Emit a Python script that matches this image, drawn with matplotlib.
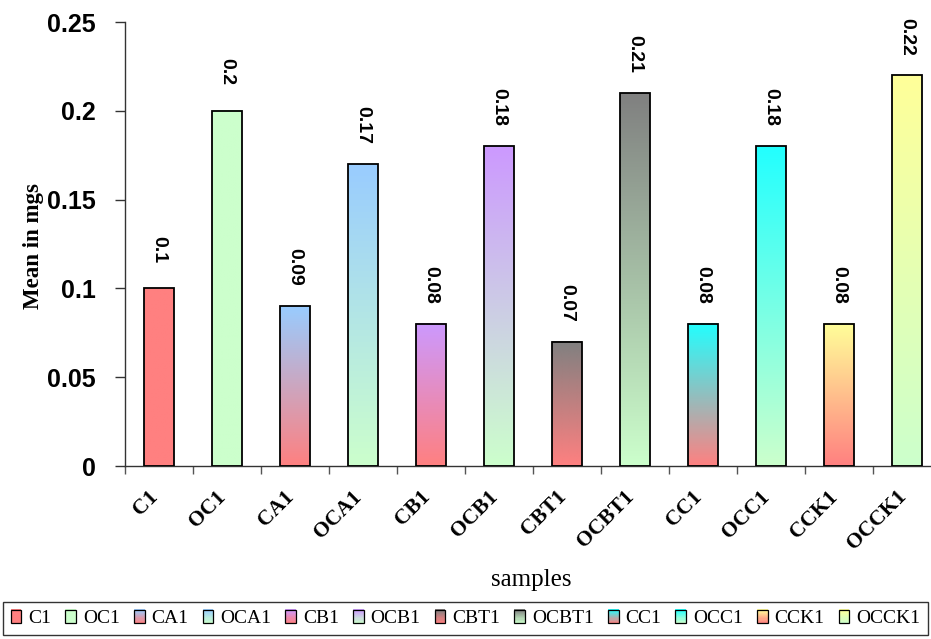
import numpy as np
import matplotlib
matplotlib.use("Agg")
import matplotlib.pyplot as plt
from matplotlib.patches import Rectangle
from matplotlib.colors import to_rgb
from matplotlib.legend_handler import HandlerBase
from matplotlib.ticker import FixedLocator
from matplotlib.transforms import ScaledTranslation

categories = ["C1", "OC1", "CA1", "OCA1", "CB1", "OCB1", "CBT1", "OCBT1",
              "CC1", "OCC1", "CCK1", "OCCK1"]
values = [0.1, 0.2, 0.09, 0.17, 0.08, 0.18, 0.07, 0.21, 0.08, 0.18, 0.08, 0.22]
top_colors = ["#FF8080", "#CCFFCC", "#99CCFF", "#99CCFF", "#CC99FF", "#CC99FF",
              "#808080", "#808080", "#22FFFF", "#22FFFF", "#FFFF99", "#FFFF99"]
bottom_colors = ["#FF8080", "#CCFFCC", "#FF8080", "#CCFFCC", "#FF8080", "#CCFFCC",
                 "#FF8080", "#CCFFCC", "#FF8080", "#CCFFCC", "#FF8080", "#CCFFCC"]
yticks = [0, 0.05, 0.1, 0.15, 0.2, 0.25]
ytick_labels = ["0", "0.05", "0.1", "0.15", "0.2", "0.25"]

W, H = 931, 639
fig = plt.figure(figsize=(W / 100, H / 100), dpi=100)
ax = fig.add_axes([125 / W, (H - 466) / H, 806 / W, 444 / H])

bw = 0.43
for i, (v, tc, bc) in enumerate(zip(values, top_colors, bottom_colors)):
    t = np.linspace(0, 1, 256)[:, None]
    top = np.array(to_rgb(tc))
    bot = np.array(to_rgb(bc))
    grad = (bot[None, :] * (1 - t) + top[None, :] * t)[:, None, :]
    ax.imshow(grad, extent=[i - bw / 2, i + bw / 2, 0, v], origin="lower",
              aspect="auto", interpolation="bilinear", zorder=2)
    ax.add_patch(Rectangle((i - bw / 2, 0), bw, v, fill=False,
                           edgecolor="black", linewidth=1.3, zorder=3))
    ax.annotate(f"{v:g}", xy=(i, v), xytext=(0, 28), textcoords="offset points",
                rotation=270, ha="center", va="center", fontsize=14,
                fontweight="bold", family="Liberation Sans", zorder=4)

ax.set_xlim(-0.5, -0.5 + 806 / 68)
ax.set_ylim(0, 0.25)
for s in ["top", "right"]:
    ax.spines[s].set_visible(False)
for s in ["left", "bottom"]:
    ax.spines[s].set_color("#333333")
    ax.spines[s].set_linewidth(1.0)

ax.set_yticks(yticks)
ax.set_yticklabels(ytick_labels, fontsize=18, fontweight="bold",
                   family="Liberation Sans")
ax.tick_params(axis="y", length=7, width=1, pad=14, color="#333333")

ax.set_xticks(range(len(categories)))
ax.set_xticklabels(categories, rotation=45, ha="right", va="top",
                   rotation_mode="anchor", fontsize=15.5, fontweight="bold",
                   family="Liberation Serif")
ax.tick_params(axis="x", which="major", length=0, pad=15)
shift = ScaledTranslation(-0.11, 0, fig.dpi_scale_trans)
for lbl in ax.get_xticklabels():
    lbl.set_transform(lbl.get_transform() + shift)
ax.xaxis.set_minor_locator(FixedLocator(np.arange(-0.5, len(categories) + 0.5, 1)))
ax.tick_params(axis="x", which="minor", length=6, width=1, color="#555555")

fig.text(33 / W, 1 - 246 / H, "Mean in mgs", rotation=90, ha="center",
         va="center", fontsize=16.5, fontweight="bold", family="Liberation Serif")
fig.text(531 / W, 1 - 580 / H, "samples", ha="center", va="center",
         fontsize=18, family="Liberation Serif")


class GradKey:
    def __init__(self, top, bot):
        self.top = np.array(to_rgb(top))
        self.bot = np.array(to_rgb(bot))


class GradHandler(HandlerBase):
    def create_artists(self, legend, orig_handle, xdescent, ydescent, width,
                       height, fontsize, trans):
        n = 12
        arts = []
        for k in range(n):
            f = (k + 0.5) / n
            c = orig_handle.bot * (1 - f) + orig_handle.top * f
            arts.append(Rectangle((-xdescent, -ydescent + k * height / n), width,
                                  height / n + 0.3, facecolor=c, edgecolor="none",
                                  transform=trans))
        arts.append(Rectangle((-xdescent, -ydescent), width, height, fill=False,
                              edgecolor="black", linewidth=0.9, transform=trans))
        return arts


handles = [GradKey(t, b) for t, b in zip(top_colors, bottom_colors)]
leg = fig.legend(handles, categories, handler_map={GradKey: GradHandler()},
                 loc="center", bbox_to_anchor=(3 / W, 2 / H, 925 / W, 37 / H),
                 mode="expand", ncol=12, borderaxespad=0, fancybox=False,
                 prop={"family": "Liberation Serif", "size": 14},
                 handlelength=0.55, handleheight=0.65, handletextpad=0.35,
                 columnspacing=0.5, borderpad=0.4)
leg.get_frame().set_edgecolor("black")
leg.get_frame().set_linewidth(1.0)

fig.savefig("out.png", dpi=100)
